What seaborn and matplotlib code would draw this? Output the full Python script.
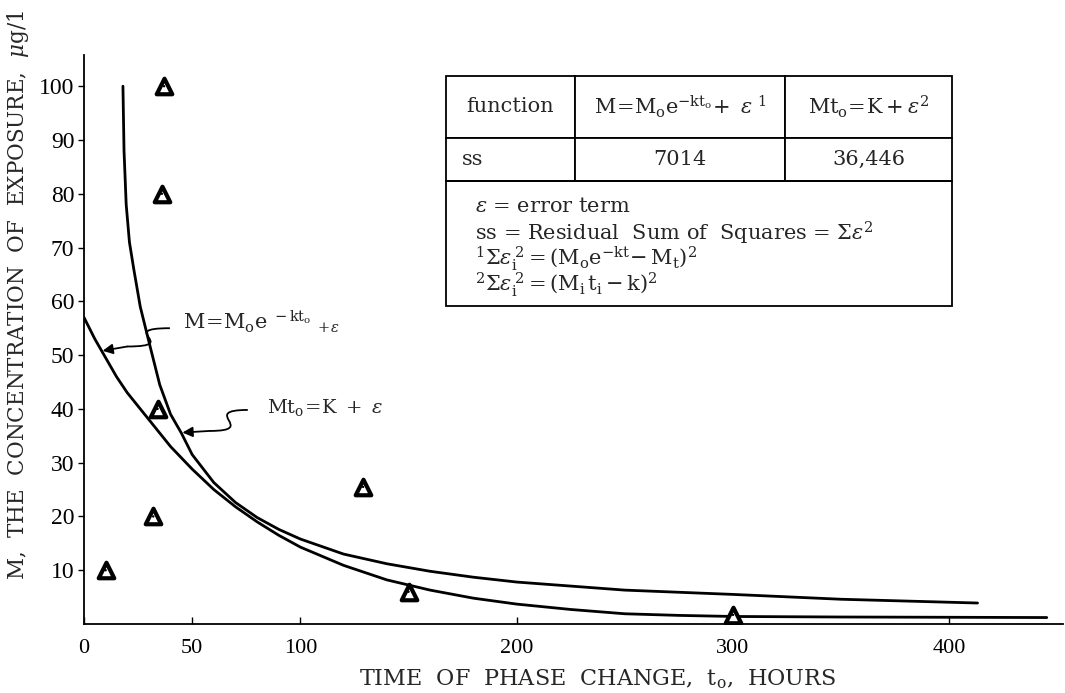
import matplotlib
matplotlib.use("Agg")
import matplotlib.pyplot as plt
from matplotlib.path import Path
from matplotlib.patches import PathPatch, Rectangle
import pandas as pd
import seaborn as sns

# Observed concentrations at the time of phase change
obs_time = [10, 32, 34, 36, 37, 129, 150, 300]
obs_conc = [10, 20, 40, 80, 100, 25.5, 6, 1.7]

# Fitted curve M = Mo e^(-kt) + e
exp_time = [0, 5, 10, 15, 20, 25, 30, 40, 50, 60, 70, 80, 90, 100, 120, 140,
            160, 180, 200, 225, 250, 275, 300, 350, 400, 445]
exp_conc = [57, 53, 49.5, 46, 43, 40.5, 38, 33, 28.8, 25, 21.8, 19, 16.5, 14.3,
            10.9, 8.2, 6.3, 4.8, 3.7, 2.7, 1.9, 1.6, 1.4, 1.3, 1.25, 1.2]

# Fitted curve M t = K + e
hyp_time = [18, 18.5, 19.5, 21, 23, 26, 30, 35, 40, 45, 50, 60, 70, 80, 90, 100,
            120, 140, 160, 180, 200, 250, 300, 350, 413]
hyp_conc = [100, 88, 78, 71, 66, 59, 52.5, 44.5, 39, 35.5, 31.5, 26.3, 22.6, 19.8,
            17.6, 15.8, 13.0, 11.2, 9.8, 8.7, 7.8, 6.3, 5.5, 4.6, 3.9]

x_ticks = [0, 50, 100, 200, 300, 400]
y_ticks = [10, 20, 30, 40, 50, 60, 70, 80, 90, 100]

table_header = ["function",
                r"$\mathrm{M\!=\!M_oe}^{-\mathrm{kt_o}}\!+\ \varepsilon^{\ 1}$",
                r"$\mathrm{Mt_o\!=\!K+}\varepsilon^{2}$"]
table_ss = ["ss", "7014", "36,446"]

notes = [r"$\varepsilon$ = error term",
         r"ss = Residual  Sum of  Squares = Σ$\varepsilon^{2}$",
         r"${}^{1}$Σ$\varepsilon_{\mathrm{i}}^{\,2}=(\mathrm{M_oe}^{-\mathrm{kt}}\!-\mathrm{M_t})^{2}$",
         r"${}^{2}$Σ$\varepsilon_{\mathrm{i}}^{\,2}=(\mathrm{M_i\,t_i}-\mathrm{k})^{2}$"]

sns.set_theme(style="ticks")
plt.rcParams["font.family"] = ["DejaVu Serif", "DejaVu Sans"]
plt.rcParams["mathtext.fontset"] = "dejavuserif"

fig = plt.figure(figsize=(10.65, 6.93), dpi=100)
ax = fig.add_axes([84 / 1065, 69 / 693, 979 / 1065, 569 / 693])

exp_df = pd.DataFrame({"t": exp_time, "M": exp_conc})
hyp_df = pd.DataFrame({"t": hyp_time, "M": hyp_conc})
obs_df = pd.DataFrame({"t": obs_time, "M": obs_conc})

sns.lineplot(data=exp_df, x="t", y="M", ax=ax, color="black", lw=2.0,
             estimator=None, sort=False)
sns.lineplot(data=hyp_df, x="t", y="M", ax=ax, color="black", lw=2.0,
             estimator=None, sort=False)
sns.scatterplot(data=obs_df, x="t", y="M", ax=ax, marker="^", s=125,
                color="white", edgecolor="black", linewidth=3.0, zorder=5)
sns.scatterplot(data=obs_df, x="t", y="M", ax=ax, marker="o", s=3,
                color="black", edgecolor="none", zorder=6)

ax.set_xlim(0, 452.5)
ax.set_ylim(0, 105.8)
ax.set_xticks(x_ticks)
ax.set_yticks(y_ticks)
ax.set_xticklabels([str(v) for v in x_ticks], family="Liberation Serif", fontsize=16)
ax.set_yticklabels([str(v) for v in y_ticks], family="Liberation Serif", fontsize=17)
ax.tick_params(axis="x", direction="in", length=5, width=1, pad=11, colors="black")
ax.tick_params(axis="y", direction="out", length=4, width=1, pad=3, colors="black")
for side in ("top", "right"):
    ax.spines[side].set_visible(False)
for side in ("left", "bottom"):
    ax.spines[side].set_linewidth(1.3)
    ax.spines[side].set_color("black")

ax.set_xlabel(r"TIME  OF  PHASE  CHANGE,  $\mathrm{t_o}$,  HOURS", fontsize=16)
ax.set_ylabel(r"M,  THE  CONCENTRATION  OF  EXPOSURE,  $\mu$g/1", fontsize=15.5)
ax.xaxis.set_label_coords(0.525, -0.0765)
ax.yaxis.set_label_coords(-0.054, 0.578)


def squiggle_arrow(start, bend, tip):
    """Wavy leader line from a label to a curve, ending in an arrow head."""
    (x0, y0), (x1, y1) = start, bend
    dx = x0 - x1
    verts = [start, (x1 - 0.3 * dx, y0), (x0 + 0.3 * dx, y1), bend]
    codes = [Path.MOVETO, Path.CURVE4, Path.CURVE4, Path.CURVE4]
    ax.add_patch(PathPatch(Path(verts, codes), fill=False, lw=1.3,
                           edgecolor="black", clip_on=False))
    ax.annotate("", xy=tip, xytext=bend,
                arrowprops=dict(arrowstyle="-|>", lw=1.3, color="black",
                                mutation_scale=15, shrinkA=0, shrinkB=0))


ax.text(45.7, 56.2, r"$\mathrm{M\!=\!M_oe}^{\ -\mathrm{kt_o}}\ {}_{+\varepsilon}$",
        fontsize=15, ha="left", va="center")
squiggle_arrow((39.7, 55.0), (20.0, 51.6), (8.6, 50.8))

ax.text(84.5, 40.2, r"$\mathrm{Mt_o\!=\!K}\ +\ \varepsilon$",
        fontsize=14, ha="left", va="center")
squiggle_arrow((75.7, 39.8), (58.2, 35.9), (45.5, 35.6))

# Summary table of the two fits
tbl_left = (446 - 84) / 979
tbl_right = (952 - 84) / 979
tbl_top = (624 - 76) / 569
tbl_bottom = (624 - 181) / 569
table = ax.table(cellText=[table_header, table_ss], colWidths=[129, 210, 167],
                 cellLoc="center",
                 bbox=[tbl_left, tbl_bottom, tbl_right - tbl_left, tbl_top - tbl_bottom])
table.auto_set_font_size(False)
table.set_fontsize(15)
for (r, c), cell in table.get_celld().items():
    cell.set_height(62 if r == 0 else 43)
    cell.set_linewidth(1.3)
    cell.set_edgecolor("black")
    cell.set_facecolor("white")
table[(1, 0)].set_text_props(ha="left")
table[(1, 0)].PAD = 0.12

box_bottom = (624 - 306) / 569
ax.add_patch(Rectangle((tbl_left, box_bottom), tbl_right - tbl_left,
                       tbl_bottom - box_bottom, transform=ax.transAxes,
                       fill=False, lw=1.3, edgecolor="black", clip_on=False))
for i, line in enumerate(notes):
    ax.text((475 - 84) / 979, (624 - (207 + 26 * i)) / 569, line,
            transform=ax.transAxes, fontsize=15, ha="left", va="center")

fig.savefig("out.png", dpi=100, facecolor="white")
